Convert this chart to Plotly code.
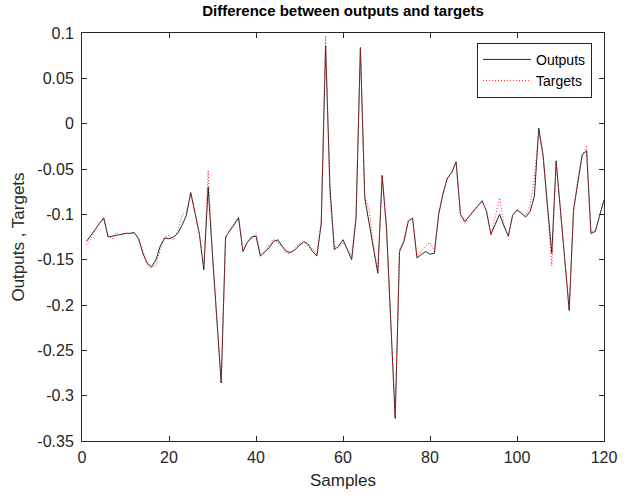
import plotly.graph_objects as go

samples = list(range(1, 121))

outputs = [
    -0.130, -0.124, -0.117, -0.110, -0.104, -0.125, -0.124, -0.123, -0.122, -0.121,
    -0.121, -0.120, -0.127, -0.143, -0.154, -0.158, -0.150, -0.135, -0.126, -0.127,
    -0.125, -0.121, -0.112, -0.101, -0.076, -0.098, -0.122, -0.161, -0.070, -0.145,
    -0.215, -0.286, -0.125, -0.118, -0.111, -0.104, -0.141, -0.131, -0.125, -0.124,
    -0.146, -0.141, -0.137, -0.130, -0.128, -0.135, -0.141, -0.142, -0.139, -0.134,
    -0.130, -0.133, -0.141, -0.146, -0.110, 0.086, -0.070, -0.139, -0.135, -0.128,
    -0.139, -0.150, -0.104, 0.084, -0.082, -0.110, -0.138, -0.165, -0.057, -0.115,
    -0.220, -0.325, -0.141, -0.130, -0.108, -0.104, -0.148, -0.144, -0.141, -0.144,
    -0.143, -0.100, -0.077, -0.060, -0.054, -0.042, -0.100, -0.108, -0.102, -0.096,
    -0.090, -0.085, -0.097, -0.122, -0.111, -0.100, -0.113, -0.124, -0.101, -0.095,
    -0.099, -0.103, -0.097, -0.080, -0.005, -0.035, -0.090, -0.143, -0.041, -0.095,
    -0.150, -0.206, -0.095, -0.062, -0.034, -0.030, -0.121, -0.119, -0.100, -0.084,
]

targets = [
    -0.134, -0.127, -0.118, -0.110, -0.105, -0.123, -0.127, -0.119, -0.124, -0.121,
    -0.121, -0.121, -0.126, -0.140, -0.157, -0.159, -0.156, -0.138, -0.125, -0.123,
    -0.129, -0.118, -0.101, -0.097, -0.078, -0.097, -0.124, -0.158, -0.052, -0.147,
    -0.217, -0.284, -0.127, -0.117, -0.110, -0.103, -0.139, -0.130, -0.127, -0.121,
    -0.143, -0.142, -0.134, -0.127, -0.131, -0.137, -0.143, -0.143, -0.137, -0.133,
    -0.131, -0.135, -0.138, -0.144, -0.106, 0.097, -0.082, -0.135, -0.137, -0.131,
    -0.139, -0.146, -0.100, 0.083, -0.080, -0.095, -0.135, -0.162, -0.058, -0.118,
    -0.222, -0.323, -0.139, -0.128, -0.106, -0.105, -0.146, -0.140, -0.135, -0.131,
    -0.140, -0.098, -0.076, -0.061, -0.053, -0.043, -0.098, -0.110, -0.103, -0.095,
    -0.091, -0.086, -0.096, -0.123, -0.103, -0.082, -0.110, -0.125, -0.100, -0.096,
    -0.097, -0.102, -0.090, -0.060, -0.008, -0.036, -0.095, -0.157, -0.043, -0.096,
    -0.152, -0.204, -0.097, -0.060, -0.036, -0.024, -0.120, -0.117, -0.102, -0.085,
]

x_ticks = [0, 20, 40, 60, 80, 100, 120]
y_ticks = [0.1, 0.05, 0, -0.05, -0.1, -0.15, -0.2, -0.25, -0.3, -0.35]
y_tick_labels = ["0.1", "0.05", "0", "-0.05", "-0.1", "-0.15", "-0.2", "-0.25", "-0.3", "-0.35"]

axis_color = "#262626"
font_family = "Liberation Sans, Arial, sans-serif"

fig = go.Figure()
fig.add_trace(go.Scatter(
    x=samples, y=outputs, mode="lines", name="Outputs",
    line=dict(color="#111111", width=0.9),
))
fig.add_trace(go.Scatter(
    x=samples, y=targets, mode="lines", name="Targets",
    line=dict(color="#ff2020", width=1, dash="1px,2px"),
))

fig.update_layout(
    width=635, height=498,
    margin=dict(l=82, r=31, t=33, b=53),
    paper_bgcolor="white", plot_bgcolor="white",
    font=dict(family=font_family, color=axis_color, size=16),
    title=dict(
        text="<b>Difference between outputs and targets</b>",
        x=(82 + 604) / 2 / 635, xanchor="center",
        y=1 - 11 / 498, yanchor="middle",
        font=dict(size=15, color="black", family=font_family),
    ),
    showlegend=True,
    legend=dict(
        x=0.977, y=0.976, xanchor="right", yanchor="top",
        bgcolor="white", bordercolor=axis_color, borderwidth=1,
        font=dict(size=14, color="black"),
        itemwidth=48, tracegroupgap=0,
    ),
)

fig.update_xaxes(
    range=[0, 120], tickvals=x_ticks, ticktext=[str(v) for v in x_ticks],
    showgrid=False, zeroline=False,
    showline=True, linecolor=axis_color, linewidth=1, mirror="allticks",
    ticks="inside", ticklen=5, tickcolor=axis_color,
    tickfont=dict(size=16),
    ticklabelstandoff=2,
    title=dict(text="Samples", font=dict(size=17), standoff=8),
)
fig.update_yaxes(
    range=[-0.35, 0.1], tickvals=y_ticks, ticktext=y_tick_labels,
    showgrid=False, zeroline=False,
    showline=True, linecolor=axis_color, linewidth=1, mirror="allticks",
    ticks="inside", ticklen=5, tickcolor=axis_color,
    tickfont=dict(size=16),
    ticklabelstandoff=4,
    title=dict(text="Outputs , Targets", font=dict(size=17), standoff=8),
)

fig.write_html("out.html")
